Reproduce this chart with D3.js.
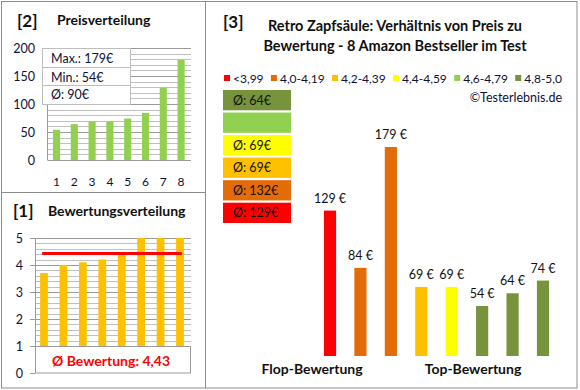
<!DOCTYPE html>
<html><head><meta charset="utf-8">
<script src="https://cdn.jsdelivr.net/npm/d3@7"></script>
<style>body{margin:0;background:#fff}svg{display:block;font-family:Lato,"Open Sans",sans-serif}</style>
</head><body><svg id="c" width="580" height="390"></svg>
<script>
// ---- data ----
const priceRanks = ["1","2","3","4","5","6","7","8"];
const pricesSorted = [54, 64, 69, 69, 74, 84, 129, 179];
const priceTicks = [0, 50, 100, 150, 200];
const priceStats = ["Max.: 179€", "Min.: 54€", "Ø: 90€"];

const ratings = [3.7, 4.0, 4.1, 4.2, 4.4, 5.0, 5.0, 5.0];
const ratingTicks = [0, 1, 2, 3, 4, 5];
const ratingAvg = 4.43;
const ratingAvgLabel = "Ø Bewertung: 4,43";

const products = ["P1","P2","P3","P4","P5","P6","P7","P8"];
const productPrices = [129, 84, 179, 69, 69, 54, 64, 74];
const productClass = [0, 1, 1, 2, 3, 5, 5, 5];
const classLabels = ["<3,99", "4,0-4,19", "4,2-4,39", "4,4-4,59", "4,6-4,79", "4,8-5,0"];
const classColors = ["#FF0000", "#E36C09", "#FFC000", "#FFFF00", "#92D050", "#77933C"];
const classAvgOrder = [5, 4, 3, 2, 1, 0];
const classAvgLabels = ["Ø: 64€", "", "Ø: 69€", "Ø: 69€", "Ø: 132€", "Ø: 129€"];
const groupLabels = ["Flop-Bewertung", "Top-Bewertung"];
const titleLines = ["Retro Zapfsäule: Verhältnis von Preis zu", "Bewertung - 8 Amazon Bestseller im Test"];

const svg = d3.select("#c");
const txt = "#111133";

// frames
svg.append("rect").attr("x",1.5).attr("y",1.5).attr("width",575.5).attr("height",386.5).attr("fill","none").attr("stroke","#8c8c8c");
svg.append("line").attr("x1",205.5).attr("x2",205.5).attr("y1",1).attr("y2",388).attr("stroke","#8c8c8c");
svg.append("line").attr("x1",1).attr("x2",205).attr("y1",192.5).attr("y2",192.5).attr("stroke","#8c8c8c");

// ---------- Panel [2] ----------
svg.append("text").attr("x",17).attr("y",27).attr("font-size",17).attr("font-weight","bold").attr("fill","#111").text("[2]");
svg.append("text").attr("x",57).attr("y",25).attr("font-size",14).attr("font-weight","bold").attr("fill","#111").text("Preisverteilung");

const x2 = d3.scaleBand().domain(priceRanks).range([47.6,190]).paddingInner(0.6).paddingOuter(0.3);
const y2 = d3.scaleLinear().domain([0,200]).range([160,48]);
const g2 = svg.append("g");
g2.selectAll("line.grid").data(d3.range(0,201,10)).join("line")
  .attr("x1",47.5).attr("x2",191).attr("y1",d=>Math.round(y2(d))+0.5).attr("y2",d=>Math.round(y2(d))+0.5)
  .attr("stroke",d=>d%50===0?"#9a9a9a":"#c0c0c0");
g2.append("line").attr("x1",47.5).attr("x2",47.5).attr("y1",48).attr("y2",160).attr("stroke","#9a9a9a");
g2.selectAll("rect.bar").data(pricesSorted).join("rect")
  .attr("x",(d,i)=>x2(priceRanks[i])).attr("width",x2.bandwidth())
  .attr("y",d=>y2(d)).attr("height",d=>y2(0)-y2(d)).attr("fill","#92D050");
const ax2 = d3.axisLeft(y2).tickValues(priceTicks).tickFormat(d3.format("d")).tickSize(0).tickPadding(0);
const ay2 = svg.append("g").attr("transform","translate(35,0)").call(ax2);
ay2.select(".domain").remove();
ay2.selectAll("text").attr("font-size",12.5).attr("fill",txt).attr("font-family","Lato");
const axb2 = d3.axisBottom(x2).tickSize(0).tickPadding(0);
const axg2 = svg.append("g").attr("transform","translate(0,177)").call(axb2);
axg2.select(".domain").remove();
axg2.selectAll("text").attr("font-size",12).attr("fill",txt).attr("font-family","Lato");
// stats box
const sb = svg.append("g");
sb.append("rect").attr("x",42.5).attr("y",48.5).attr("width",88).attr("height",56).attr("fill","#fff").attr("stroke","#bdbdbd");
[67.5,85.5].forEach(y=>sb.append("line").attr("x1",42.5).attr("x2",130.5).attr("y1",y).attr("y2",y).attr("stroke","#bdbdbd"));
sb.selectAll("text").data(priceStats).join("text")
  .attr("x",51).attr("y",(d,i)=>[63,82,99][i]).attr("font-size",12.5).attr("fill",txt).text(d=>d);

// ---------- Panel [1] ----------
svg.append("text").attr("x",13).attr("y",217).attr("font-size",17).attr("font-weight","bold").attr("fill","#111").text("[1]");
svg.append("text").attr("x",48).attr("y",216).attr("font-size",14).attr("font-weight","bold").attr("fill","#111").text("Bewertungsverteilung");

const x1 = d3.scaleBand().domain(priceRanks).range([34.3,189.7]).paddingInner(0.6).paddingOuter(0.3);
const y1 = d3.scaleLinear().domain([0,5]).range([373,238]);
const g1 = svg.append("g");
g1.selectAll("line.grid").data(d3.range(5,26,1).map(d=>d/5)).join("line")
  .attr("x1",35).attr("x2",191).attr("y1",d=>Math.round(y1(d))+0.5).attr("y2",d=>Math.round(y1(d))+0.5)
  .attr("stroke",d=>Math.abs(d-Math.round(d))<1e-6?"#9a9a9a":"#c0c0c0");
g1.append("line").attr("x1",35.5).attr("x2",35.5).attr("y1",238).attr("y2",373).attr("stroke","#9a9a9a");
g1.selectAll("line.tk").data(ratingTicks).join("line")
  .attr("x1",30).attr("x2",35).attr("y1",d=>Math.round(y1(d))+0.5).attr("y2",d=>Math.round(y1(d))+0.5).attr("stroke","#9a9a9a");
g1.selectAll("rect.bar").data(ratings).join("rect")
  .attr("x",(d,i)=>x1(priceRanks[i])).attr("width",x1.bandwidth())
  .attr("y",d=>y1(d)).attr("height",d=>y1(1)-y1(d)).attr("fill","#FFC000");
g1.append("line").attr("x1",x1(priceRanks[0])+2).attr("x2",x1(priceRanks[7])+x1.bandwidth()-2)
  .attr("y1",y1(ratingAvg)).attr("y2",y1(ratingAvg)).attr("stroke","#FF0000").attr("stroke-width",3);
const ax1 = d3.axisLeft(y1).tickValues(ratingTicks).tickFormat(d3.format("d")).tickSize(0).tickPadding(0);
const ay1 = svg.append("g").attr("transform","translate(23,0)").call(ax1);
ay1.select(".domain").remove();
ay1.selectAll("text").attr("font-size",12.5).attr("fill",txt).attr("font-family","Lato");
g1.append("rect").attr("x",35.5).attr("y",Math.round(y1(1))+0.5).attr("width",155).attr("height",y1(0)-y1(1)-0.5)
  .attr("fill","#fff").attr("stroke","#9a9a9a");
g1.append("text").attr("x",111).attr("y",366).attr("text-anchor","middle").attr("font-size",14).attr("font-weight","bold")
  .attr("fill","#FF0000").text(ratingAvgLabel);

// ---------- Panel [3] ----------
svg.append("text").attr("x",223).attr("y",28).attr("font-size",17).attr("font-weight","bold").attr("fill","#111").text("[3]");
svg.selectAll("text.title").data(titleLines).join("text")
  .attr("x",395).attr("y",(d,i)=>[31,51][i]).attr("text-anchor","middle").attr("font-size",14.5).attr("font-weight","bold").attr("fill","#111")
  .text(d=>d);
// legend: measured flow layout from x=224 to x=562
const lg = svg.append("g");
const legTexts = classLabels.map(l=>lg.append("text").attr("y",82.5).attr("font-size",12).attr("fill",txt).text(l));
const widths = legTexts.map(t=>t.node().getComputedTextLength());
const sq = 6, sqGap = 3;
const totalW = d3.sum(widths) + classLabels.length*(sq+sqGap);
const gap = (562-224-totalW)/(classLabels.length-1);
let cx = 224;
classLabels.forEach((l,i)=>{
  lg.append("rect").attr("x",cx).attr("y",75).attr("width",sq).attr("height",sq).attr("fill",classColors[i]);
  legTexts[i].attr("x",cx+sq+sqGap);
  cx += sq+sqGap+widths[i]+gap;
});
svg.append("text").attr("x",562).attr("y",102).attr("text-anchor","end").attr("font-size",12.5).attr("fill",txt).text("©Testerlebnis.de");
// class average boxes
const boxY = d3.scaleBand().domain(d3.range(6)).range([90,223]).paddingInner(0.1);
classAvgOrder.forEach((c,i)=>{
  svg.append("rect").attr("x",223).attr("y",boxY(i)).attr("width",68).attr("height",boxY.bandwidth()).attr("fill",classColors[c]);
  svg.append("text").attr("x",233).attr("y",boxY(i)+boxY.bandwidth()/2+4.5).attr("font-size",12.5).attr("fill","#111").text(classAvgLabels[i]);
});
// bars
const x3 = d3.scaleBand().domain(products).range([314.8,558.2]).paddingInner(0.6).paddingOuter(0.3);
const y3 = d3.scaleLinear().domain([14.7,179]).range([356,147]);
svg.selectAll("rect.p3").data(productPrices).join("rect").attr("class","p3")
  .attr("x",(d,i)=>x3(products[i])).attr("width",x3.bandwidth())
  .attr("y",d=>y3(d)).attr("height",d=>356-y3(d)).attr("fill",(d,i)=>classColors[productClass[i]]);
svg.selectAll("text.p3").data(productPrices).join("text").attr("class","p3")
  .attr("x",(d,i)=>x3(products[i])+x3.bandwidth()/2).attr("y",d=>y3(d)-8).attr("text-anchor","middle")
  .attr("font-size",12.5).attr("fill","#111").text(d=>d+" €");
svg.selectAll("text.grp").data(groupLabels).join("text")
  .attr("x",(d,i)=>[312,473][i]).attr("y",374).attr("text-anchor","middle").attr("font-size",14).attr("font-weight","bold").attr("fill","#111")
  .text(d=>d);
</script></body></html>
